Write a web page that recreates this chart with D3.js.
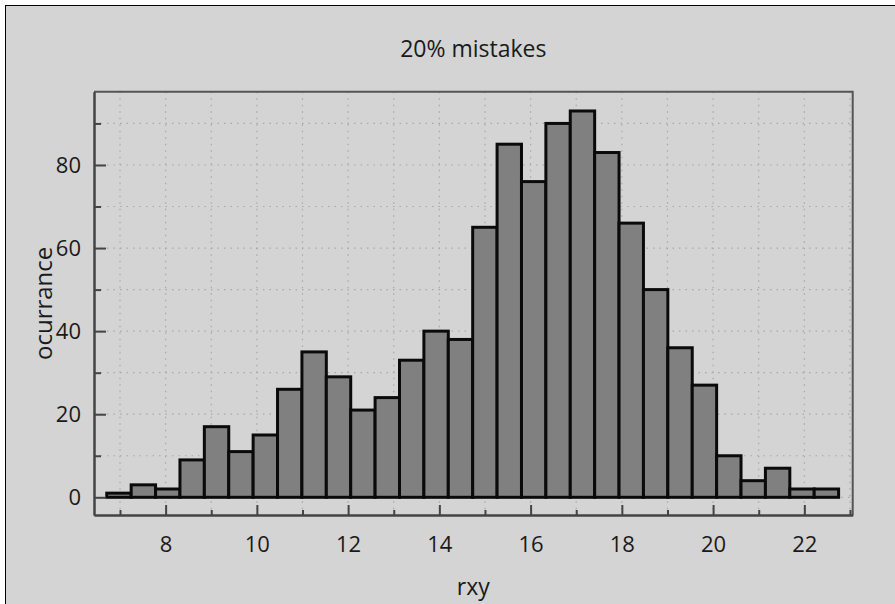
<!DOCTYPE html>
<html><head><meta charset="utf-8">
<script src="https://cdn.jsdelivr.net/npm/d3@7"></script>
<style>
html,body{margin:0;padding:0;background:#fff;}
text{font-family:"Open Sans","DejaVu Sans",sans-serif;fill:#1a1a1a;}
</style></head>
<body><svg id="chart" width="895" height="604"></svg>
<script>
// ---- data ----
const title = "20% mistakes";
const xLabel = "rxy";
const yLabel = "ocurrance";
const counts = [1,3,2,9,17,11,15,26,35,29,21,24,33,40,38,65,85,76,90,93,83,66,50,36,27,10,4,7,2,2];
const binStart = 6.71;
const binWidth = 0.5347;
const xMajorTicks = [8,10,12,14,16,18,20,22];
const xMinorTicks = [7,9,11,13,15,17,19,21,23];
const yMajorTicks = [0,20,40,60,80];
const yMinorTicks = [10,30,50,70,90];
const xDomain = [6.43, 23.06];
const yDomain = [-4.26, 97.64];

// ---- layout ----
const svg = d3.select("#chart");
const L = 94, R = 852.7, T = 91.7, B = 515;
const bg = "#d4d4d4";

svg.append("rect").attr("x",5.5).attr("y",5.5).attr("width",900).attr("height",610)
  .attr("fill",bg).attr("stroke","#000").attr("stroke-width",1);

const x = d3.scaleLinear().domain(xDomain).range([L,R]);
const y = d3.scaleLinear().domain(yDomain).range([B,T]);

// grid
const grid = svg.append("g").attr("stroke","#a8a8a8").attr("stroke-width",1.2).attr("stroke-dasharray","1.5,5");
const xGrid = xMajorTicks.concat(xMinorTicks);
grid.selectAll("line.vx").data(xGrid).join("line")
  .attr("x1",d=>x(d)).attr("x2",d=>x(d)).attr("y1",T).attr("y2",B);
const yGrid = yMajorTicks.concat(yMinorTicks);
grid.selectAll("line.hy").data(yGrid).join("line")
  .attr("y1",d=>y(d)).attr("y2",d=>y(d)).attr("x1",L).attr("x2",R);

// bars
const bins = counts.map((c,i)=>({x0:binStart+i*binWidth, x1:binStart+(i+1)*binWidth, c}));
svg.append("g").selectAll("rect").data(bins).join("rect")
  .attr("x",d=>x(d.x0)).attr("width",d=>x(d.x1)-x(d.x0))
  .attr("y",d=>y(d.c)).attr("height",d=>y(0)-y(d.c))
  .attr("fill","#808080").attr("stroke","#0a0a0a").attr("stroke-width",3);

// frame top/right
svg.append("path").attr("d",`M${L},${T}H${R}V${B}`).attr("fill","none")
  .attr("stroke","#555").attr("stroke-width",2);

// x axis
svg.append("g").attr("transform",`translate(0,${B})`)
  .call(d3.axisBottom(x).tickValues(xMajorTicks).tickSizeInner(-10).tickSizeOuter(0).tickPadding(21).tickFormat(d3.format("d")));
svg.append("g").attr("transform",`translate(0,${B})`)
  .call(d3.axisBottom(x).tickValues(xMinorTicks).tickSizeInner(-5).tickSizeOuter(0).tickFormat(""));
// y axis
svg.append("g").attr("transform",`translate(${L},0)`)
  .call(d3.axisLeft(y).tickValues(yMajorTicks).tickSizeInner(-12).tickSizeOuter(0).tickPadding(13).tickFormat(d3.format("d")));
svg.append("g").attr("transform",`translate(${L},0)`)
  .call(d3.axisLeft(y).tickValues(yMinorTicks).tickSizeInner(-7).tickSizeOuter(0).tickFormat(""));

svg.selectAll(".domain").attr("stroke","#444").attr("stroke-width",2);
svg.selectAll(".tick line").attr("stroke","#444").attr("stroke-width",2);
svg.selectAll(".tick text").attr("font-size",22).attr("font-family",null).attr("fill","#1a1a1a");

// titles
svg.append("text").attr("x",(L+R)/2).attr("y",57).attr("text-anchor","middle")
  .attr("font-size",23).text(title);
svg.append("text").attr("x",(L+R)/2).attr("y",595).attr("text-anchor","middle")
  .attr("font-size",23).text(xLabel);
svg.append("text").attr("transform",`translate(52,${(T+B)/2}) rotate(-90)`).attr("text-anchor","middle")
  .attr("font-size",24).text(yLabel);
</script></body></html>
